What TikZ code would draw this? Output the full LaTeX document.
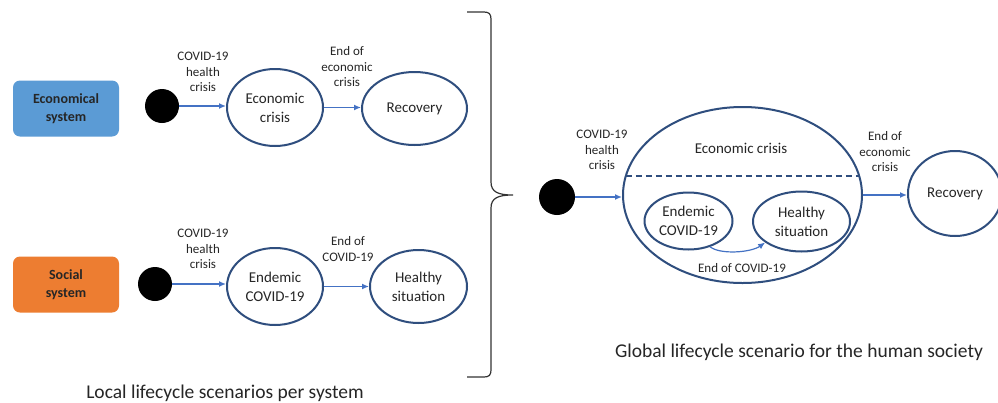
\documentclass[tikz,border=0pt]{standalone}
\usepackage{fontspec}
\setmainfont{Carlito}
\usetikzlibrary{shapes.geometric,arrows.meta,calc}
\definecolor{ell}{HTML}{2F4E7E}
\definecolor{arr}{HTML}{4472C4}
\definecolor{txt}{HTML}{262626}
\definecolor{boxblue}{HTML}{5B9BD5}
\definecolor{boxorange}{HTML}{ED7D31}
\begin{document}
\begin{tikzpicture}[x=1pt,y=-1pt,
 state/.style={ellipse,draw=ell,line width=2pt,inner sep=0pt,font=\fontsize{15}{19}\selectfont,text=txt,align=center},
 start/.style={circle,fill=black,inner sep=0pt,minimum size=34pt},
 sysbox/.style={rounded corners=7pt,minimum width=106pt,minimum height=56pt,font=\bfseries\fontsize{14}{18}\selectfont,text=txt,align=center},
 lbl/.style={font=\fontsize{13}{15.5}\selectfont,text=txt,align=center},
 captxt/.style={font=\fontsize{19.5}{23}\selectfont,text=txt},
 flow/.style={draw=arr,line width=1.6pt,-{Latex[length=7pt,width=6pt]}},
]
\useasboundingbox (0,0) rectangle (998,402);
\clip (0,0) rectangle (998,402);
\fill[white] (0,0) rectangle (998,402);

% top row
\node[sysbox,fill=boxblue] (econ) at (66,108.5) {Economical\\system};
\node[start] (d1) at (162,106) {};
\node[state,minimum width=96pt,minimum height=77pt] (ec) at (275,107.5) {Economic\\crisis};
\node[state,minimum width=105pt,minimum height=73pt] (rec1) at (414.5,108.5) {Recovery};
\draw[flow] (d1.east) -- (d1.east -| ec.west);
\draw[flow] (ec.east) -- (ec.east -| rec1.west);
\node[lbl] (l1) at (203,72) {COVID-19\\health\\crisis};
\node[lbl] (l2) at (347,67) {End of\\economic\\crisis};

% bottom row
\node[sysbox,fill=boxorange] (soc) at (66,284.5) {Social\\system};
\node[start] (d2) at (155,284) {};
\node[state,minimum width=96pt,minimum height=77pt] (end1) at (275,286.5) {Endemic\\COVID-19};
\node[state,minimum width=97pt,minimum height=73pt] (hs1) at (418.5,286.5) {Healthy\\situation};
\draw[flow] (d2.east) -- (d2.east -| end1.west);
\draw[flow] (end1.east) -- (end1.east -| hs1.west);
\node[lbl] (l3) at (203,249) {COVID-19\\health\\crisis};
\node[lbl] (l4) at (348,249) {End of\\COVID-19};

% brace
\draw[line width=1.2pt,draw=black!80] (467,12) -- (484,12) .. controls (489,12) and (491,14) .. (491,19)
  -- (491,182) .. controls (491,192) and (498,195) .. (513,195)
  .. controls (498,195) and (491,198) .. (491,208)
  -- (491,370) .. controls (491,375) and (489,377) .. (484,377) -- (467,377);

% right side
\node[start,minimum size=36pt] (d3) at (557,197) {};
\node[state,minimum width=239pt,minimum height=176pt] (glob) at (742.5,195) {};
\node[font=\fontsize{15}{19}\selectfont,text=txt] (gl) at (741,148) {Economic crisis};
\draw[draw=ell,line width=1.4pt,dash pattern=on 6pt off 4pt] ($(glob.center)+(-116.7,-19)$) -- ($(glob.center)+(116.7,-19)$);
\node[state,minimum width=88pt,minimum height=57pt] (end2) at (688.5,221) {Endemic\\COVID-19};
\node[state,minimum width=97pt,minimum height=60pt] (hs2) at (801.5,221.5) {Healthy\\situation};
\draw[flow,line width=1.2pt] (end2.-50) .. controls +(10,8) and +(-14,10) .. (hs2.-150);
\node[lbl] (l5) at (742,268) {End of COVID-19};
\node[state,minimum width=94pt,minimum height=85pt] (rec2) at (955,193.5) {Recovery};
\draw[flow] (d3.east) -- (d3.east -| glob.west);
\draw[flow] (glob.east) -- (glob.east -| rec2.west);
\node[lbl] (l6) at (602,150) {COVID-19\\health\\crisis};
\node[lbl] (l7) at (885,152) {End of\\economic\\crisis};

% captions
\node[captxt] (c1) at (225,393) {Local lifecycle scenarios per system};
\node[captxt] (c2) at (799,352) {Global lifecycle scenario for the human society};
\end{tikzpicture}
\end{document}
